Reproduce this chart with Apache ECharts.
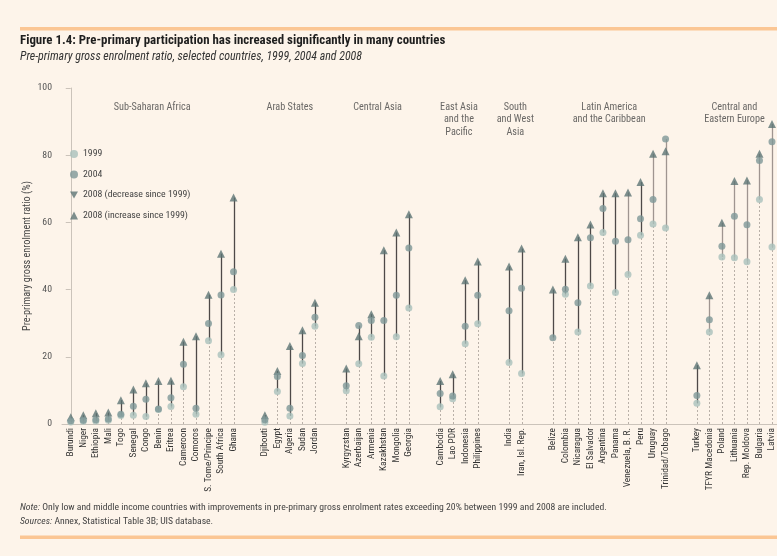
<!DOCTYPE html>
<html>
<head>
<meta charset="utf-8">
<script src="https://cdn.jsdelivr.net/npm/echarts@6/dist/echarts.min.js"></script>
<style>
html,body{margin:0;padding:0;background:#fdf4ea;}
#chart{width:777px;height:556px;}
</style>
</head>
<body>
<div id="chart"></div>
<script>
// ---------- DATA ----------
const groupNames = ['Sub-Saharan Africa', 'Arab States', 'Central Asia', 'East Asia\nand the\nPacific', 'South\nand West\nAsia', 'Latin America\nand the Caribbean', 'Central and\nEastern Europe'];
const groupSizes = [14, 5, 6, 4, 2, 10, 7];
const countries = [
  'Burundi','Niger','Ethiopia','Mali','Togo','Senegal','Congo','Benin','Eritrea','Cameroon','Comoros','S. Tome/Principe','South Africa','Ghana',
  'Djibouti','Egypt','Algeria','Sudan','Jordan',
  'Kyrgyzstan','Azerbaijan','Armenia','Kazakhstan','Mongolia','Georgia',
  'Cambodia','Lao PDR','Indonesia','Philippines',
  'India','Iran, Isl. Rep.',
  'Belize','Colombia','Nicaragua','El Salvador','Argentina','Panama','Venezuela, B. R.','Peru','Uruguay','Trinidad/Tobago',
  'Turkey','TFYR Macedonia','Poland','Lithuania','Rep. Moldova','Bulgaria','Latvia'
];
const v1999 = [
  0.6, 0.8, 0.9, 1.1, 2.5, 2.6, 2.2, 4.3, 5.2, 11.1, 2.9, 24.8, 20.6, 40.0,
  0.5, 9.7, 2.4, 18.0, 29.1,
  9.9, 17.9, 25.8, 14.3, 26.0, 34.5,
  5.1, 7.5, 23.9, 29.8,
  18.3, 15.0,
  null, 38.6, 27.4, 41.1, 57.0, 39.1, 44.5, 56.2, 59.5, 58.3,
  6.2, 27.4, 49.7, 49.5, 48.3, 66.8, 52.7
];
const v2004 = [
  1.0, 1.1, 1.3, 1.5, 2.9, 5.3, 7.4, 4.5, 7.8, 17.8, 4.7, 29.9, 38.4, 45.3,
  1.3, 14.1, 4.7, 20.4, 31.8,
  11.4, 29.3, 30.8, 30.8, 38.3, 52.4,
  9.1, 8.3, 29.1, 38.3,
  33.7, 40.4,
  25.7, 40.1, 36.1, 55.4, 64.1, 54.4, 54.8, 61.1, 66.8, 84.8,
  8.5, 31.0, 52.9, 61.8, 59.3, 78.4, 84.0
];
const v2008 = [
  2.0, 2.6, 3.2, 3.4, 7.1, 10.3, 12.1, 12.8, 12.9, 24.5, 26.1, 38.5, 50.7, 67.4,
  2.6, 15.8, 23.2, 27.9, 36.1,
  16.5, 26.1, 32.7, 51.7, 57.0, 62.4,
  12.8, 14.8, 42.8, 48.4,
  46.9, 52.2,
  40.0, 49.2, 55.6, 59.4, 68.7, 68.7, 68.9, 72.0, 80.4, 81.2,
  17.5, 38.3, 59.9, 72.3, 72.5, 80.4, 89.3
];
const yTicks = [0, 20, 40, 60, 80, 100];

// ---------- STYLE CONFIG ----------
const lightStemCountries = ['Venezuela, B. R.','Uruguay','Trinidad/Tobago','TFYR Macedonia','Poland','Lithuania','Rep. Moldova','Bulgaria','Latvia'];
const GROUP_GAP = 1.5;
const TITLE = 'Figure 1.4: Pre-primary participation has increased significantly in many countries';
const SUBTITLE = 'Pre-primary gross enrolment ratio, selected countries, 1999, 2004 and 2008';
const NOTE = ' Only low and middle income countries with improvements in pre-primary gross enrolment rates exceeding 20% between 1999 and 2008 are included.';
const SOURCES = ' Annex, Statistical Table 3B; UIS database.';
const YNAME = 'Pre-primary gross enrolment ratio (%)';

// ---------- FONT PICK & SIZE FIT ----------
const ctx = document.createElement('canvas').getContext('2d');
function hasFont(f) {
  const s = 'abcdefghijklmnopqrstuvwxyz ABCDEFGHIJ 0123456789';
  ctx.font = '20px monospace'; const m = ctx.measureText(s).width;
  ctx.font = '20px serif'; const se = ctx.measureText(s).width;
  ctx.font = "20px '" + f + "', monospace"; const a = ctx.measureText(s).width;
  ctx.font = "20px '" + f + "', serif"; const b = ctx.measureText(s).width;
  return a !== m && b !== se;
}
const candidates = ['Roboto Condensed', 'Noto Sans Condensed', 'Open Sans Condensed', 'Liberation Sans Narrow', 'DejaVu Sans Condensed', 'Arial Narrow'];
let picked = candidates.find(hasFont);
const FONT = (picked ? "'" + picked + "', " : '') + "'Liberation Sans', sans-serif";
function fit(text, target, weight, style) {
  ctx.font = (style || 'normal') + ' ' + (weight || 'normal') + ' 20px ' + FONT;
  return Math.round(20 * target / ctx.measureText(text).width * 10) / 10;
}
const FS_TITLE = fit(TITLE, 427, 'bold');
const FS_SUB = fit(SUBTITLE, 343, 'normal', 'italic');
const FS_LEG = fit('2008 (decrease since 1999)', 107);
const FS_GROUP = fit('Sub-Saharan Africa', 77);
const FS_YNAME = fit(YNAME, 150);
const FS_NOTE = fit('Note:' + NOTE, 590);
const FS_X = fit('S. Tome/Principe', 64);
const FS_Y = fit('100', 14.5);

// ---------- DERIVED ----------
const xPos = [];
const groupCenters = [];
(function(){
  let idx = 0;
  groupSizes.forEach((n, g) => {
    const start = idx + GROUP_GAP * g;
    for (let k = 0; k < n; k++) xPos.push(idx + k + GROUP_GAP * g);
    groupCenters.push(start + (n - 1) / 2);
    idx += n;
  });
})();

function nameAt(v) {
  for (let i = 0; i < xPos.length; i++) if (Math.abs(xPos[i] - v) < 0.02) return countries[i];
  return '';
}

const stemData = countries.map((c, i) => {
  const vals = [v1999[i], v2004[i], v2008[i]].filter(v => v != null);
  return [xPos[i], Math.min.apply(null, vals), Math.max.apply(null, vals), lightStemCountries.indexOf(c) >= 0 ? 1 : 0];
});
const d1999 = [], d2004 = [], dUp = [], dDown = [];
countries.forEach((c, i) => {
  if (v1999[i] != null) d1999.push([xPos[i], v1999[i]]);
  if (v2004[i] != null) d2004.push([xPos[i], v2004[i]]);
  const base = v1999[i] != null ? v1999[i] : v2004[i];
  if (v2008[i] >= base) dUp.push([xPos[i], v2008[i]]); else dDown.push([xPos[i], v2008[i]]);
});

const chart = echarts.init(document.getElementById('chart'), null, {renderer: 'canvas'});
const C1999 = '#a9c0bc', C2004 = '#7e9797', C2008 = '#5c7474';
const DOWN_TRI = 'path://M0,0L10,0L5,9Z';

chart.setOption({
  backgroundColor: '#fdf4ea',
  animation: false,
  textStyle: {fontFamily: FONT},
  title: [{
    text: TITLE,
    subtext: SUBTITLE,
    left: 20, top: 34, padding: 0, itemGap: 4,
    textStyle: {fontFamily: FONT, fontSize: FS_TITLE, fontWeight: 'bold', color: '#1e1e1e'},
    subtextStyle: {fontFamily: FONT, fontSize: FS_SUB, fontStyle: 'italic', color: '#333'}
  }],
  legend: {
    orient: 'vertical', left: 70, top: 149, padding: 0,
    itemWidth: 8, itemHeight: 8, itemGap: 10.5,
    textStyle: {fontFamily: FONT, fontSize: FS_LEG, color: '#444'},
    data: [
      {name: '1999', icon: 'circle'},
      {name: '2004', icon: 'circle'},
      {name: '2008 (decrease since 1999)', icon: DOWN_TRI},
      {name: '2008 (increase since 1999)', icon: 'triangle'}
    ],
    selectedMode: false
  },
  grid: {left: 62, top: 88, width: 715, height: 336, containLabel: false},
  xAxis: {
    type: 'value', min: -0.7, max: 56.4, interval: 0.1,
    splitLine: {show: false},
    axisTick: {show: false},
    axisLine: {lineStyle: {color: '#cbc3ba', width: 1}},
    axisLabel: {
      rotate: 90, margin: 4, fontSize: FS_X, color: '#333', fontFamily: FONT,
      showMinLabel: false, showMaxLabel: false,
      formatter: v => nameAt(v)
    }
  },
  yAxis: {
    type: 'value', min: yTicks[0], max: yTicks[yTicks.length - 1], interval: yTicks[1] - yTicks[0],
    name: YNAME,
    nameLocation: 'middle', nameGap: 30, nameMoveOverlap: false,
    nameTextStyle: {fontFamily: FONT, fontSize: FS_YNAME, color: '#444'},
    splitLine: {show: false},
    axisLine: {show: true, lineStyle: {color: '#cbc3ba', width: 1}},
    axisTick: {show: true, length: 5, lineStyle: {color: '#cbc3ba'}},
    axisLabel: {margin: 10, fontSize: FS_Y, color: '#555', fontFamily: FONT}
  },
  series: [
    {
      type: 'custom', name: 'stems', silent: true, z: 1,
      data: stemData,
      renderItem: (params, api) => {
        const x = api.value(0), lo = api.value(1), hi = api.value(2), light = api.value(3);
        const p0 = api.coord([x, 0]), p1 = api.coord([x, lo]), p2 = api.coord([x, hi]);
        const px = Math.round(p0[0]) + 0.5;
        return {
          type: 'group',
          children: [
            {type: 'line', shape: {x1: px, y1: p0[1], x2: px, y2: p1[1]},
             style: {stroke: '#b9b0a8', lineWidth: 1, lineDash: [2, 2]}},
            {type: 'line', shape: {x1: px, y1: p1[1], x2: px, y2: p2[1]},
             style: {stroke: light ? '#9f9590' : '#4e4948', lineWidth: 1.3}}
          ]
        };
      }
    },
    {
      type: 'scatter', name: '2008 (increase since 1999)', symbol: 'triangle', symbolSize: [8, 8], z: 2,
      itemStyle: {color: C2008}, emphasis: {disabled: true}, data: dUp
    },
    {
      type: 'scatter', name: '2008 (decrease since 1999)', symbol: DOWN_TRI, symbolSize: [8, 8], z: 2,
      itemStyle: {color: C2008}, emphasis: {disabled: true}, data: dDown
    },
    {
      type: 'scatter', name: '1999', symbol: 'circle', symbolSize: 7, z: 3,
      itemStyle: {color: C1999}, emphasis: {disabled: true}, data: d1999
    },
    {
      type: 'scatter', name: '2004', symbol: 'circle', symbolSize: 7, z: 4,
      itemStyle: {color: C2004}, emphasis: {disabled: true}, data: d2004
    },
    {
      type: 'scatter', name: 'groups', symbolSize: 0, silent: true, z: 5,
      data: groupNames.map((g, i) => ({name: g, value: [groupCenters[i], 96.2]})),
      label: {show: true, position: 'bottom', distance: 0, formatter: p => p.name,
        fontFamily: FONT, fontSize: FS_GROUP, lineHeight: 12.5, color: '#444', align: 'center'}
    }
  ],
  graphic: [
    {type: 'rect', left: 20, top: 27, shape: {width: 757, height: 3.5}, style: {fill: '#fbc694'}, silent: true},
    {type: 'rect', left: 20, top: 535.5, shape: {width: 757, height: 3.5}, style: {fill: '#fbc694'}, silent: true},
    {type: 'text', left: 20, top: 503, silent: true,
     style: {text: '{i|Note:}{n|' + NOTE + '}',
       rich: {i: {fontFamily: FONT, fontSize: FS_NOTE, fontStyle: 'italic', fill: '#444'}, n: {fontFamily: FONT, fontSize: FS_NOTE, fill: '#444'}}}},
    {type: 'text', left: 20, top: 517, silent: true,
     style: {text: '{i|Sources:}{n|' + SOURCES + '}',
       rich: {i: {fontFamily: FONT, fontSize: FS_NOTE, fontStyle: 'italic', fill: '#444'}, n: {fontFamily: FONT, fontSize: FS_NOTE, fill: '#444'}}}}
  ]
});
</script>
</body>
</html>
